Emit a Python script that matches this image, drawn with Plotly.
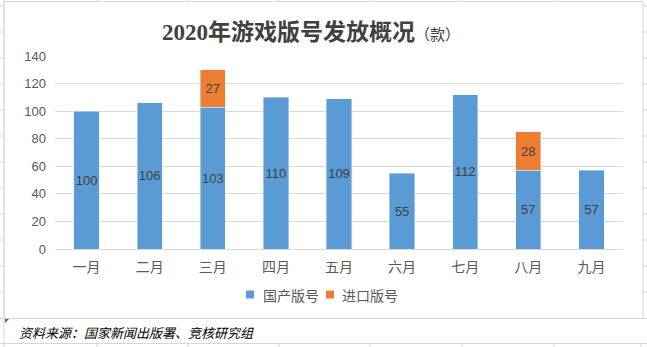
import plotly.graph_objects as go

months = ["一月", "二月", "三月", "四月", "五月", "六月", "七月", "八月", "九月"]
domestic = [100, 106, 103, 110, 109, 55, 112, 57, 57]
imported = [None, None, 27, None, None, None, None, 28, None]
y_ticks = [0, 20, 40, 60, 80, 100, 120, 140]
series_names = ["国产版号", "进口版号"]
series_colors = ["#5B9BD5", "#ED7D31"]

W, H = 647, 347
L, R, T, B = 55, 24, 56, 98
PW, PH = W - L - R, H - T - B


def xp(px):
    return (px - L) / PW


def yp(py):
    return (H - B - py) / PH


CJK = "Noto Sans CJK SC"
LBL = dict(color="#404040", size=13, family="Liberation Sans")
fig = go.Figure()
fig.add_trace(go.Bar(
    name=series_names[0], x=months, y=domestic, marker_color=series_colors[0],
    text=[str(v) for v in domestic], textposition="inside", insidetextanchor="middle",
    textangle=0, constraintext="none", textfont=LBL, showlegend=False,
))
fig.add_trace(go.Bar(
    name=series_names[1], x=months, y=imported, marker_color=series_colors[1],
    text=[str(v) if v else "" for v in imported], textposition="inside", insidetextanchor="middle",
    textangle=0, constraintext="none", textfont=LBL, showlegend=False,
))

shapes = []
annotations = []
grid = "#D6D6D6"


def line(x0, y0, x1, y1, color=grid, w=1):
    shapes.append(dict(type="line", xref="paper", yref="paper",
                       x0=xp(x0), y0=yp(y0), x1=xp(x1), y1=yp(y1),
                       line=dict(color=color, width=w), layer="above"))


cols = [97, 188, 279, 370, 462, 554, 641]
for c in cols:
    line(c, 0, c, 1.5)
    line(c, 343, c, 347)
line(4, 0, 4, 347)
for r in [6, 32, 58, 84, 110, 136, 162, 188, 214, 240, 266, 292]:
    line(0, r, 4, r)
    line(643, r, 647, r)
line(0, 318.5, 647, 318.5)
line(0, 343.5, 647, 343.5)
# chart border
shapes.append(dict(type="rect", xref="paper", yref="paper",
                   x0=xp(4), y0=yp(1.5), x1=xp(643), y1=yp(318.5),
                   line=dict(color="#D9D9D9", width=1), layer="below"))
# green cell marker
shapes.append(dict(type="path", xref="paper", yref="paper",
                   path=f"M {xp(5)} {yp(319)} L {xp(9)} {yp(319)} L {xp(5)} {yp(323)} Z",
                   fillcolor="#1E8C1E", line=dict(width=0), layer="above"))

# custom legend
legend_pos = [(246, 263), (326, 342)]
for (mx, tx), name, col in zip(legend_pos, series_names, series_colors):
    shapes.append(dict(type="rect", xref="paper", yref="paper",
                       x0=xp(mx), y0=yp(290.5), x1=xp(mx + 8), y1=yp(298.5),
                       fillcolor=col, line=dict(width=0), layer="above"))
    annotations.append(dict(text=name, xref="paper", yref="paper", x=xp(tx - 2), y=yp(295),
                            xanchor="left", yanchor="middle", showarrow=False,
                            font=dict(family=CJK, size=14, color="#595959")))

annotations.append(dict(
    text="<i>资料来源：国家新闻出版署、竞核研究组</i>", xref="paper", yref="paper",
    x=xp(17), y=yp(332), xanchor="left", yanchor="middle", showarrow=False,
    font=dict(family=CJK, size=13, color="#000000"),
))

fig.update_layout(
    width=W, height=H, margin=dict(l=L, r=R, t=T, b=B),
    paper_bgcolor="white", plot_bgcolor="white",
    barmode="stack", bargap=0.6, showlegend=False,
    title=dict(
        text="<b>2020年游戏版号发放概况</b><span style='font-size:15px'>（款）</span>",
        x=311 / W, y=1 - 32 / H, xanchor="center", yanchor="middle", xref="container", yref="container",
        font=dict(family="Liberation Serif, " + CJK, size=23, color="#404040"),
    ),
    xaxis=dict(tickfont=dict(family=CJK, size=14, color="#595959"), showline=False,
               ticks="", showgrid=False, ticklabelstandoff=8),
    yaxis=dict(range=[0, 140], tickvals=y_ticks, showgrid=True, gridcolor="#D9D9D9",
               gridwidth=1, zeroline=True, zerolinecolor="#D9D9D9", zerolinewidth=1,
               tickfont=dict(family="Liberation Sans", size=13, color="#595959"),
               ticks="", ticklen=0, ticklabelstandoff=8),
    uniformtext=dict(mode=False),
    shapes=shapes,
    annotations=annotations,
)
fig.write_html("out.html")
